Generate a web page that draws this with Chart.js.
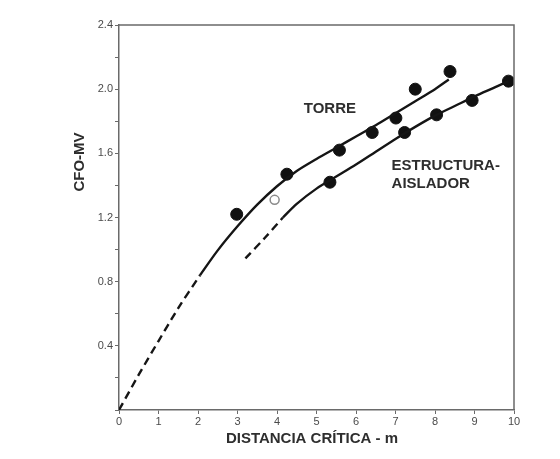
<!DOCTYPE html>
<html>
<head>
<meta charset="utf-8">
<script src="https://cdn.jsdelivr.net/npm/chart.js@4"></script>
<style>
html,body{margin:0;padding:0;background:#fff;}
#wrap{width:560px;height:459px;position:relative;}
</style>
</head>
<body>
<div id="wrap"><canvas id="c" width="560" height="459"></canvas></div>
<script>
// ---- data ----
const xTickValues = [0,1,2,3,4,5,6,7,8,9,10];
const yTickLabels = ['0.4','0.8','1.2','1.6','2.0','2.4'];

const torreX = [2.98, 4.25, 5.58, 6.41, 7.01, 7.50, 8.38];
const torreY = [1.22, 1.47, 1.62, 1.73, 1.82, 2.00, 2.11];
const torreOpenX = [3.94];
const torreOpenY = [1.31];

const estX = [5.34, 7.23, 8.04, 8.94, 9.86];
const estY = [1.42, 1.73, 1.84, 1.93, 2.05];

const torreDashX = [0, 0.5, 1, 1.5, 2.05];
const torreDashY = [0, 0.22, 0.43, 0.635, 0.84];
const torreCurveX = [2.05, 2.5, 3, 3.5, 4, 4.5, 5, 5.5, 6, 6.5, 7, 7.5, 8, 8.35];
const torreCurveY = [0.84, 0.995, 1.145, 1.28, 1.395, 1.49, 1.565, 1.635, 1.705, 1.775, 1.85, 1.925, 2.00, 2.06];

const estDashX = [3.2, 3.7, 4.15];
const estDashY = [0.945, 1.075, 1.20];
const estCurveX = [4.15, 4.5, 5, 5.5, 6, 6.5, 7, 7.5, 8, 8.5, 9, 9.5, 9.86];
const estCurveY = [1.20, 1.285, 1.38, 1.455, 1.53, 1.61, 1.69, 1.765, 1.835, 1.895, 1.955, 2.01, 2.05];

const pts = (xs, ys) => xs.map((x, i) => ({x: x, y: ys[i]}));

const lineStyle = {
  showLine: true, pointRadius: 0, borderColor: '#151515', borderWidth: 2.4,
  tension: 0.3, fill: false
};

const textPlugin = {
  id: 'texts',
  afterDraw(chart) {
    const {ctx, chartArea: a, scales: {x, y}} = chart;
    ctx.save();
    // box top and right
    ctx.strokeStyle = '#6a6a6a';
    ctx.lineWidth = 1.5;
    ctx.beginPath();
    ctx.moveTo(a.left, a.top);
    ctx.lineTo(a.right, a.top);
    ctx.lineTo(a.right, a.bottom);
    ctx.stroke();

    ctx.fillStyle = '#2e2e2e';
    ctx.font = 'bold 15px "Liberation Sans", Arial, sans-serif';
    ctx.textBaseline = 'middle';
    // annotations
    ctx.textAlign = 'center';
    ctx.fillText('TORRE', x.getPixelForValue(5.34), y.getPixelForValue(1.877));
    ctx.textAlign = 'left';
    ctx.fillText('ESTRUCTURA-', x.getPixelForValue(6.9), y.getPixelForValue(1.52));
    ctx.fillText('AISLADOR', x.getPixelForValue(6.9), y.getPixelForValue(1.407));
    // axis titles
    ctx.textAlign = 'center';
    ctx.fillText('DISTANCIA CRÍTICA - m', 312, 439);
    ctx.translate(80, 162);
    ctx.rotate(-Math.PI / 2);
    ctx.fillText('CFO-MV', 0, 0);
    ctx.restore();
  }
};

new Chart(document.getElementById('c'), {
  type: 'scatter',
  data: {
    datasets: [
      Object.assign({data: pts(torreDashX, torreDashY), borderDash: [8, 5]}, lineStyle),
      Object.assign({data: pts(torreCurveX, torreCurveY)}, lineStyle),
      Object.assign({data: pts(estDashX, estDashY), borderDash: [8, 5]}, lineStyle),
      Object.assign({data: pts(estCurveX, estCurveY)}, lineStyle),
      {data: pts(torreX, torreY), pointRadius: 6, pointBackgroundColor: '#111', pointBorderColor: '#111', pointBorderWidth: 1, showLine: false},
      {data: pts(estX, estY), pointRadius: 6, pointBackgroundColor: '#111', pointBorderColor: '#111', pointBorderWidth: 1, showLine: false},
      {data: pts(torreOpenX, torreOpenY), pointRadius: 4.5, pointBackgroundColor: '#fff', pointBorderColor: '#8a8a8a', pointBorderWidth: 1.5, showLine: false}
    ]
  },
  options: {
    responsive: false,
    animation: false,
    layout: {padding: {left: 0, right: 46, top: 25, bottom: 0}},
    plugins: {legend: {display: false}, tooltip: {enabled: false}, title: {display: false}},
    scales: {
      x: {
        type: 'linear', min: 0, max: 10,
        afterFit(s) { s.height = 49; },
        afterBuildTicks(s) { s.ticks = xTickValues.map(v => ({value: v})); },
        ticks: {color: '#4a4a4a', font: {size: 11, family: '"Liberation Sans", Arial, sans-serif'}, padding: 1, maxRotation: 0,
                callback: v => String(v)},
        grid: {drawOnChartArea: false, drawTicks: true, tickLength: 4, color: '#6a6a6a', lineWidth: 1},
        border: {display: true, color: '#6a6a6a', width: 1.5}
      },
      y: {
        type: 'linear', min: 0, max: 2.4,
        afterFit(s) { s.width = 119; },
        ticks: {stepSize: 0.2, color: '#4a4a4a', font: {size: 11, family: '"Liberation Sans", Arial, sans-serif'}, padding: 2,
                callback: v => {
                  const k = Math.round(v * 10);
                  if (k > 0 && k % 4 === 0) return yTickLabels[k / 4 - 1];
                  return '';
                }},
        grid: {drawOnChartArea: false, drawTicks: true, tickLength: 4, color: '#6a6a6a', lineWidth: 1},
        border: {display: true, color: '#6a6a6a', width: 1.5}
      }
    }
  },
  plugins: [textPlugin]
});
</script>
</body>
</html>
